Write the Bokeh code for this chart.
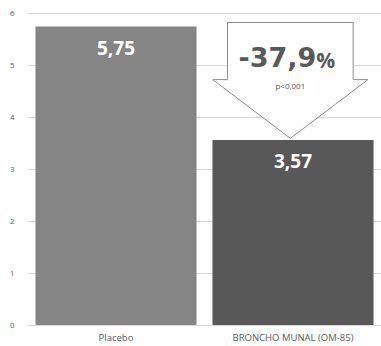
from bokeh.plotting import figure
from bokeh.models import Range1d, FixedTicker, ColumnDataSource
from bokeh.core.properties import value
from bokeh.embed import file_html
from bokeh.resources import INLINE

# Data
categories = ["Placebo", "BRONCHO MUNAL (OM-85)"]
values = [5.75, 3.57]
bar_colors = ["#858585", "#585858"]
y_ticks = [0, 1, 2, 3, 4, 5, 6]
p_value_text = "p<0,001"

FONT = "Open Sans"
HEAVY_FONT = "DejaVu Sans"
TEXT_GRAY = "#595959"
GRID_GRAY = "#d9d9d9"

xs = [i + 0.5 for i in range(len(categories))]
labels = [f"{v:.2f}".replace(".", ",") for v in values]
change = (values[1] - values[0]) / values[0] * 100
change_text = f"{change:.1f}".replace(".", ",")

p = figure(width=381, height=346, output_backend="svg", toolbar_location=None,
           x_range=Range1d(0, 2), y_range=Range1d(0, 6.06),
           min_border_left=27, min_border_right=0, min_border_top=10,
           min_border_bottom=21)
p.outline_line_color = None
p.background_fill_color = "white"
p.border_fill_color = "white"

# Axes
for ax_ in (p.xaxis, p.yaxis):
    ax_.major_tick_line_color = None
    ax_.minor_tick_line_color = None
    ax_.major_tick_out = 0
    ax_.major_tick_in = 0
    ax_.minor_tick_out = 0
    ax_.minor_tick_in = 0
    ax_.major_label_text_font = FONT
    ax_.major_label_text_color = TEXT_GRAY

p.yaxis.ticker = FixedTicker(ticks=y_ticks)
p.yaxis.axis_line_color = None
p.yaxis.major_label_text_font_size = "8px"
p.yaxis.major_label_standoff = 13

p.xaxis.ticker = FixedTicker(ticks=xs)
p.xaxis.major_label_overrides = {x: c for x, c in zip(xs, categories)}
p.xaxis.axis_line_color = GRID_GRAY
p.xaxis.major_label_text_font_size = "9.5px"
p.xaxis.major_label_standoff = 5

p.xgrid.grid_line_color = None
p.ygrid.grid_line_color = GRID_GRAY
p.ygrid.grid_line_width = 1

# Bars
src = ColumnDataSource(dict(x=xs, top=values, color=bar_colors, label=labels))
p.vbar(x="x", top="top", width=0.91, fill_color="color", line_color=None,
       source=src)
p.text(x="x", y="top", text="label", source=src, text_align="center",
       text_baseline="middle", y_offset=21, text_color="white",
       text_font=value(FONT), text_font_style="bold", text_font_size="19px")

# Reduction arrow pointing down onto the second bar
cx = xs[1] - 0.015
tip_y = values[1] + 0.03
shaft_half = 0.355
head_half = 0.438
shoulder_y = 4.73
top_y = 5.83
ax = [cx - shaft_half, cx + shaft_half, cx + shaft_half, cx + head_half,
      cx, cx - head_half, cx - shaft_half]
ay = [top_y, top_y, shoulder_y, shoulder_y, tip_y, shoulder_y, shoulder_y]
p.patch(ax, ay, fill_color="white", line_color="#8c8c8c", line_width=1)

p.text(x=[cx], y=[5.17], text=[change_text], text_align="right",
       text_baseline="middle", x_offset=26, text_color=TEXT_GRAY,
       text_font=value(HEAVY_FONT), text_font_style="bold",
       text_font_size="27px")
p.text(x=[cx], y=[5.17], text=["%"], text_align="left",
       text_baseline="middle", x_offset=26, y_offset=3, text_color=TEXT_GRAY,
       text_font=value(FONT), text_font_style="bold", text_font_size="21px")
p.text(x=[cx], y=[4.62], text=[p_value_text], text_align="center",
       text_baseline="middle", text_color=TEXT_GRAY,
       text_font=value(FONT), text_font_size="8px")

open("out.html", "w").write(file_html(p, INLINE))
